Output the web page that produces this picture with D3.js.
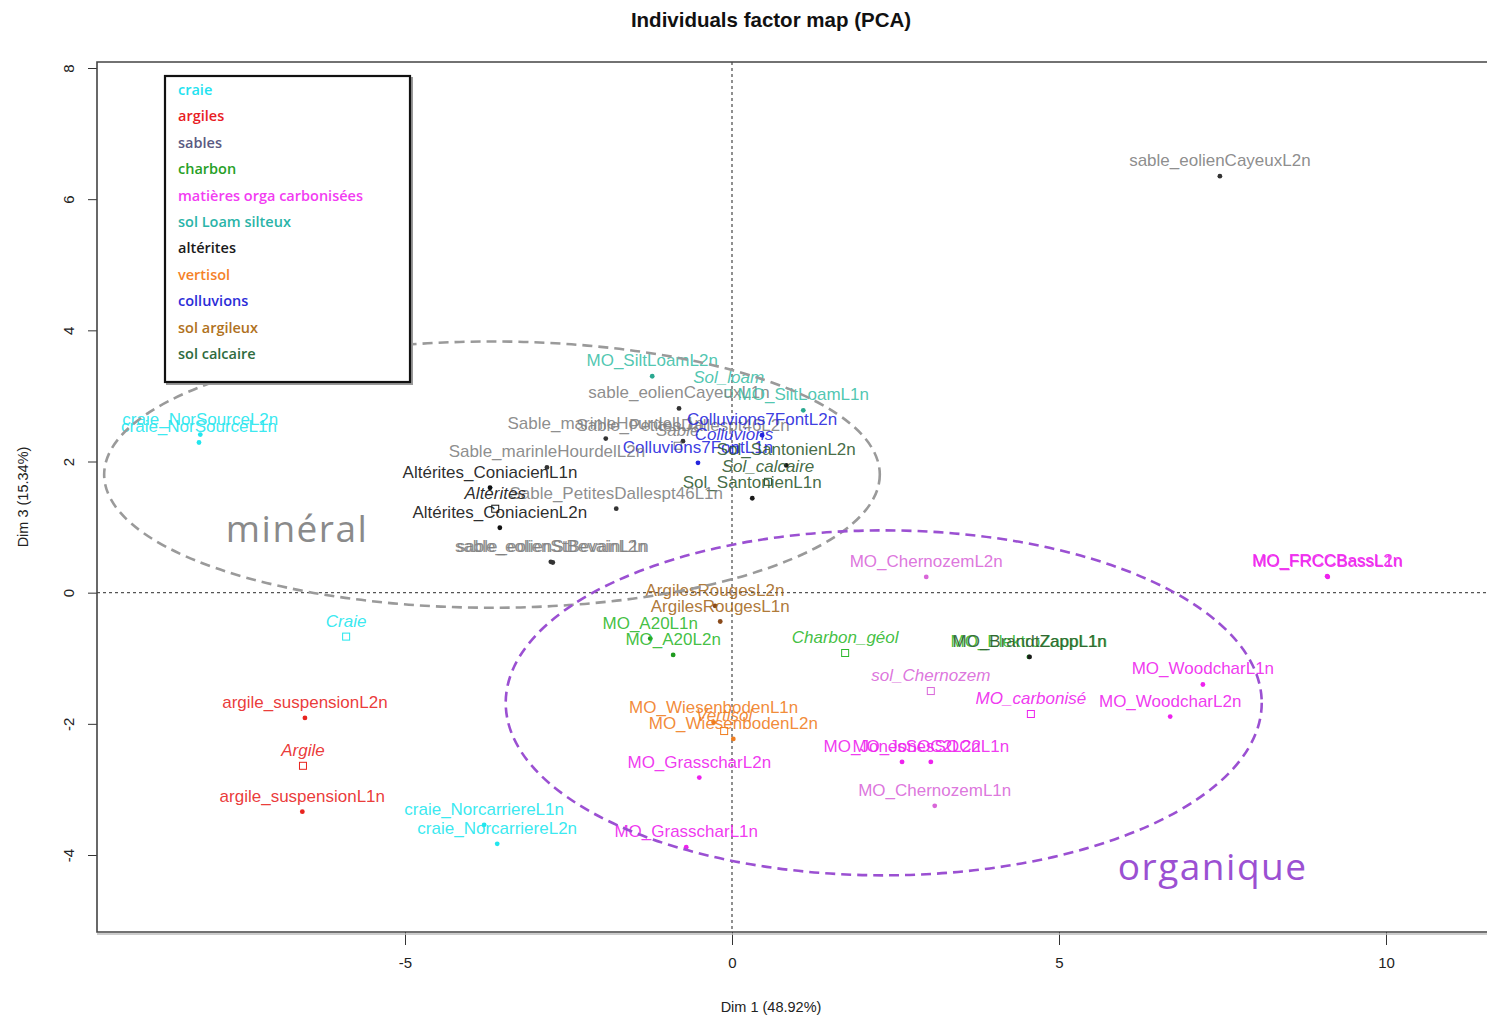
<!DOCTYPE html>
<html>
<head>
<meta charset="utf-8">
<script src="https://cdn.jsdelivr.net/npm/d3@7"></script>
<style>
  body { margin: 0; background: #fff; }
  svg { display: block; }
</style>
</head>
<body>
<svg id="chart" width="1488" height="1017"></svg>
<script>
// ---- Groups shown in the legend ----
const legendGroups = ["craie", "argiles", "sables", "charbon", "matières orga carbonisées",
  "sol Loam silteux", "altérites", "vertisol", "colluvions", "sol argileux", "sol calcaire"];
const legendColors = ["#22e2f0", "#e81c24", "#5a5a82", "#26a026", "#f23cf2",
  "#2ab4a8", "#1a1a1a", "#f58228", "#2c2cd8", "#b0721e", "#2e6b40"];

// Colours used for the individuals on the map (label / point)
const mapGroups = ["craie", "argiles", "sables", "charbon", "matières orga carbonisées",
  "sol Loam silteux", "altérites", "vertisol", "colluvions", "sol argileux", "sol calcaire", "chernozem"];
const labelColors = ["#22e6ee", "#e8231e", "#808080", "#2db82d", "#ee22ee",
  "#3cc0a8", "#111111", "#f07d1e", "#2525dd", "#a5691e", "#2f5a30", "#d966d9"];
const pointColors = ["#22e6ee", "#e8231e", "#333333", "#1f9a1f", "#ee22ee",
  "#2aa890", "#111111", "#f07d1e", "#2525dd", "#8a4a1a", "#1a1a1a", "#d966d9"];

// ---- Active individuals (Dim 1, Dim 3 coordinates) ----
const activeNames = ["sable_eolienCayeuxL2n", "craie_NorSourceL2n", "craie_NorSourceL1n",
  "MO_SiltLoamL2n", "sable_eolienCayeuxL1n", "MO_SiltLoamL1n", "Sable_marinleHourdelL1n",
  "Sable_PetitesDallespt46L2n", "Colluvions7FontL2n", "Colluvions7FontL1n", "Sol_SantonienL2n",
  "Sol_SantonienL1n", "Sable_marinleHourdelL2n", "Altérites_ConiacienL1n", "Sable_PetitesDallespt46L1n",
  "Altérites_ConiacienL2n", "sable_eolienStBevainL1n", "sable_eolienStBevainL2n", "ArgilesRougesL2n",
  "ArgilesRougesL1n", "MO_A20L1n", "MO_A20L2n", "MO_ChernozemL2n", "MO_FRCCBassL1n", "MO_FRCCBassL2n",
  "MO_ElektroZappL1n", "MO_BrandtZappL1n", "MO_WoodcharL1n", "MO_WoodcharL2n", "MO_WiesenbodenL1n",
  "MO_WiesenbodenL2n", "MO_GrasscharL2n", "MO_JonesSOC2L2n", "MO_JonesSOC2L1n", "MO_ChernozemL1n",
  "MO_GrasscharL1n", "argile_suspensionL2n", "argile_suspensionL1n", "craie_NorcarriereL1n",
  "craie_NorcarriereL2n"];
const activeDim1 = [7.46, -8.13, -8.15, -1.22, -0.81, 1.09, -1.93, -0.75, 0.46, -0.52, 0.83,
  0.31, -2.83, -3.70, -1.77, -3.55, -2.74, -2.77, -0.26, -0.18, -1.25, -0.90, 2.97, 9.11, 9.10,
  4.54, 4.55, 7.20, 6.70, -0.28, 0.02, -0.50, 2.60, 3.04, 3.10, -0.70, -6.53, -6.57, -3.79, -3.59];
const activeDim3 = [6.35, 2.41, 2.29, 3.30, 2.81, 2.78, 2.35, 2.31, 2.40, 1.98, 1.94,
  1.44, 1.91, 1.60, 1.28, 0.99, 0.46, 0.47, -0.20, -0.44, -0.70, -0.95, 0.24, 0.24, 0.25,
  -0.98, -0.98, -1.40, -1.89, -1.98, -2.23, -2.82, -2.58, -2.58, -3.25, -3.88, -1.91, -3.34, -3.54, -3.83];
const activeGroup = ["sables", "craie", "craie", "sol Loam silteux", "sables", "sol Loam silteux", "sables",
  "sables", "colluvions", "colluvions", "sol calcaire", "sol calcaire", "sables", "altérites", "sables",
  "altérites", "sables", "sables", "sol argileux", "sol argileux", "charbon", "charbon", "chernozem",
  "matières orga carbonisées", "matières orga carbonisées", "charbon", "sol calcaire",
  "matières orga carbonisées", "matières orga carbonisées", "vertisol", "vertisol",
  "matières orga carbonisées", "matières orga carbonisées", "matières orga carbonisées", "chernozem",
  "matières orga carbonisées", "argiles", "argiles", "craie", "craie"];

// ---- Supplementary individuals (open squares, italic labels) ----
const suppNames = ["Sol_loam", "Sable", "Colluvions", "Sol_calcaire", "Altérites", "Craie", "Argile",
  "Charbon_géol", "sol_Chernozem", "MO_carbonisé", "Vertisol"];
const suppDim1 = [-0.05, -0.83, 0.03, 0.55, -3.62, -5.90, -6.56, 1.73, 3.04, 4.57, -0.12];
const suppDim3 = [3.04, 2.24, 2.18, 1.69, 1.28, -0.67, -2.64, -0.92, -1.50, -1.85, -2.11];
const suppGroup = ["sol Loam silteux", "sables", "colluvions", "sol calcaire", "altérites", "craie",
  "argiles", "charbon", "chernozem", "matières orga carbonisées", "vertisol"];

// ---- Hand-drawn cluster outlines (in Dim units) ----
const clusterNames = ["minéral", "organique"];
const clusterCx = [-3.67, 2.32];
const clusterCy = [1.80, -1.68];
const clusterRx = [5.93, 5.78];
const clusterRy = [2.03, 2.63];
const clusterLabelX = [-6.65, 7.35];
const clusterLabelY = [0.96, -4.2];

// ---- Axes ----
const xTicks = [-5, 0, 5, 10];
const yTicks = [-4, -2, 0, 2, 4, 6, 8];
const xTitle = "Dim 1 (48.92%)";
const yTitle = "Dim 3 (15.34%)";
const chartTitle = "Individuals factor map (PCA)";

const svg = d3.select("#chart");
const x = d3.scaleLinear().domain([-5, 10]).range([405, 1386]);
const y = d3.scaleLinear().domain([-4, 8]).range([855, 68]);
const box = { left: 97, right: 1487, top: 62, bottom: 932 };

const labelCol = g => labelColors[mapGroups.indexOf(g)];
const pointCol = g => pointColors[mapGroups.indexOf(g)];
const FONT = "'Liberation Sans', Arial, sans-serif";
const tickFmt = d => String(d);

// Title
svg.append("text")
  .attr("x", 771).attr("y", 27)
  .attr("text-anchor", "middle")
  .attr("font-family", FONT).attr("font-weight", "bold").attr("font-size", 20.5)
  .attr("fill", "#111").text(chartTitle);

// Zero reference lines
svg.append("line")
  .attr("x1", box.left).attr("x2", box.right).attr("y1", y(0)).attr("y2", y(0))
  .attr("stroke", "#555").attr("stroke-width", 1.3).attr("stroke-dasharray", "3,3");
svg.append("line")
  .attr("x1", x(0)).attr("x2", x(0)).attr("y1", box.top).attr("y2", box.bottom)
  .attr("stroke", "#555").attr("stroke-width", 1.3).attr("stroke-dasharray", "3,3");

// X axis
const gx = svg.append("g").attr("transform", `translate(0,${box.bottom})`)
  .call(d3.axisBottom(x).tickValues(xTicks).tickSize(13).tickPadding(12).tickFormat(tickFmt));
gx.select(".domain").remove();
gx.selectAll("line").attr("stroke", "#333");
gx.selectAll("text").attr("font-family", FONT).attr("font-size", 15).attr("fill", "#222");

// Y axis with rotated tick labels
const gy = svg.append("g").attr("transform", `translate(${box.left},0)`)
  .call(d3.axisLeft(y).tickValues(yTicks).tickSize(9).tickFormat(tickFmt));
gy.select(".domain").remove();
gy.selectAll("line").attr("stroke", "#333");
gy.selectAll("text")
  .attr("x", null).attr("dy", null)
  .attr("text-anchor", "middle")
  .attr("dominant-baseline", "central")
  .attr("transform", "translate(-29,0) rotate(-90)")
  .attr("font-family", FONT).attr("font-size", 15).attr("fill", "#222");

// Axis titles
svg.append("text")
  .attr("x", 771).attr("y", 1012).attr("text-anchor", "middle")
  .attr("font-family", FONT).attr("font-size", 14.5).attr("fill", "#222").text(xTitle);
svg.append("text")
  .attr("transform", `translate(28,497) rotate(-90)`).attr("text-anchor", "middle")
  .attr("font-family", FONT).attr("font-size", 14.5).attr("fill", "#222").text(yTitle);

// Plot frame (open on the right)
svg.append("path")
  .attr("d", `M${box.right},${box.top}H${box.left}V${box.bottom}H${box.right}`)
  .attr("fill", "none").attr("stroke", "#444").attr("stroke-width", 1.6);
svg.append("line")
  .attr("x1", box.left).attr("x2", box.right).attr("y1", box.bottom + 2).attr("y2", box.bottom + 2)
  .attr("stroke", "#bbb").attr("stroke-width", 1.5);

// Active individuals: points then labels
const active = activeNames.map((n, i) => ({ name: n, d1: activeDim1[i], d3: activeDim3[i], g: activeGroup[i] }));
const supp = suppNames.map((n, i) => ({ name: n, d1: suppDim1[i], d3: suppDim3[i], g: suppGroup[i] }));

svg.append("g").selectAll("circle").data(active).join("circle")
  .attr("cx", d => x(d.d1)).attr("cy", d => y(d.d3)).attr("r", 2.4)
  .attr("fill", d => pointCol(d.g));

svg.append("g").selectAll("rect").data(supp).join("rect")
  .attr("x", d => x(d.d1) - 3.5).attr("y", d => y(d.d3) - 3.5)
  .attr("width", 7).attr("height", 7)
  .attr("fill", "none").attr("stroke", d => labelCol(d.g)).attr("stroke-width", 1);

svg.append("g").selectAll("text").data(active).join("text")
  .attr("x", d => x(d.d1)).attr("y", d => y(d.d3) - 10)
  .attr("text-anchor", "middle")
  .attr("font-family", FONT).attr("font-size", 17)
  .attr("fill", d => labelCol(d.g)).attr("fill-opacity", 0.9)
  .text(d => d.name);

svg.append("g").selectAll("text").data(supp).join("text")
  .attr("x", d => x(d.d1)).attr("y", d => y(d.d3) - 10)
  .attr("text-anchor", "middle")
  .attr("font-family", FONT).attr("font-size", 17).attr("font-style", "italic")
  .attr("fill", d => labelCol(d.g)).attr("fill-opacity", 0.9)
  .text(d => d.name);

// Cluster outlines and their names
const clusterStroke = ["#9a9a9a", "#9b50d2"];
const clusterText = ["#8a8a8a", "#9b50d2"];
clusterNames.forEach((name, i) => {
  svg.append("ellipse")
    .attr("cx", x(clusterCx[i])).attr("cy", y(clusterCy[i]))
    .attr("rx", x(clusterRx[i]) - x(0)).attr("ry", y(0) - y(clusterRy[i]))
    .attr("fill", "none").attr("stroke", clusterStroke[i])
    .attr("stroke-width", 2.6).attr("stroke-dasharray", "10,6");
  svg.append("text")
    .attr("x", x(clusterLabelX[i])).attr("y", y(clusterLabelY[i]) + 12)
    .attr("text-anchor", "middle")
    .attr("font-family", "'Open Sans', sans-serif").attr("font-size", 37)
    .attr("letter-spacing", 1.5)
    .attr("fill", clusterText[i]).text(name);
});

// Legend
const lg = svg.append("g");
lg.append("rect").attr("x", 167).attr("y", 78).attr("width", 245).attr("height", 306)
  .attr("fill", "none").attr("stroke", "#999").attr("stroke-width", 2);
lg.append("rect").attr("x", 165).attr("y", 76).attr("width", 245).attr("height", 306)
  .attr("fill", "#fff").attr("stroke", "#111").attr("stroke-width", 2.2);
const legendY = d3.scaleLinear().domain([0, legendGroups.length - 1]).range([95, 359]);
lg.selectAll("text.leg").data(legendGroups).join("text")
  .attr("class", "leg")
  .attr("x", 178).attr("y", (d, i) => legendY(i))
  .attr("font-family", "'Open Sans', sans-serif").attr("font-weight", 600).attr("font-size", 14.5)
  .attr("fill", (d, i) => legendColors[i])
  .text(d => d);
</script>
</body>
</html>
